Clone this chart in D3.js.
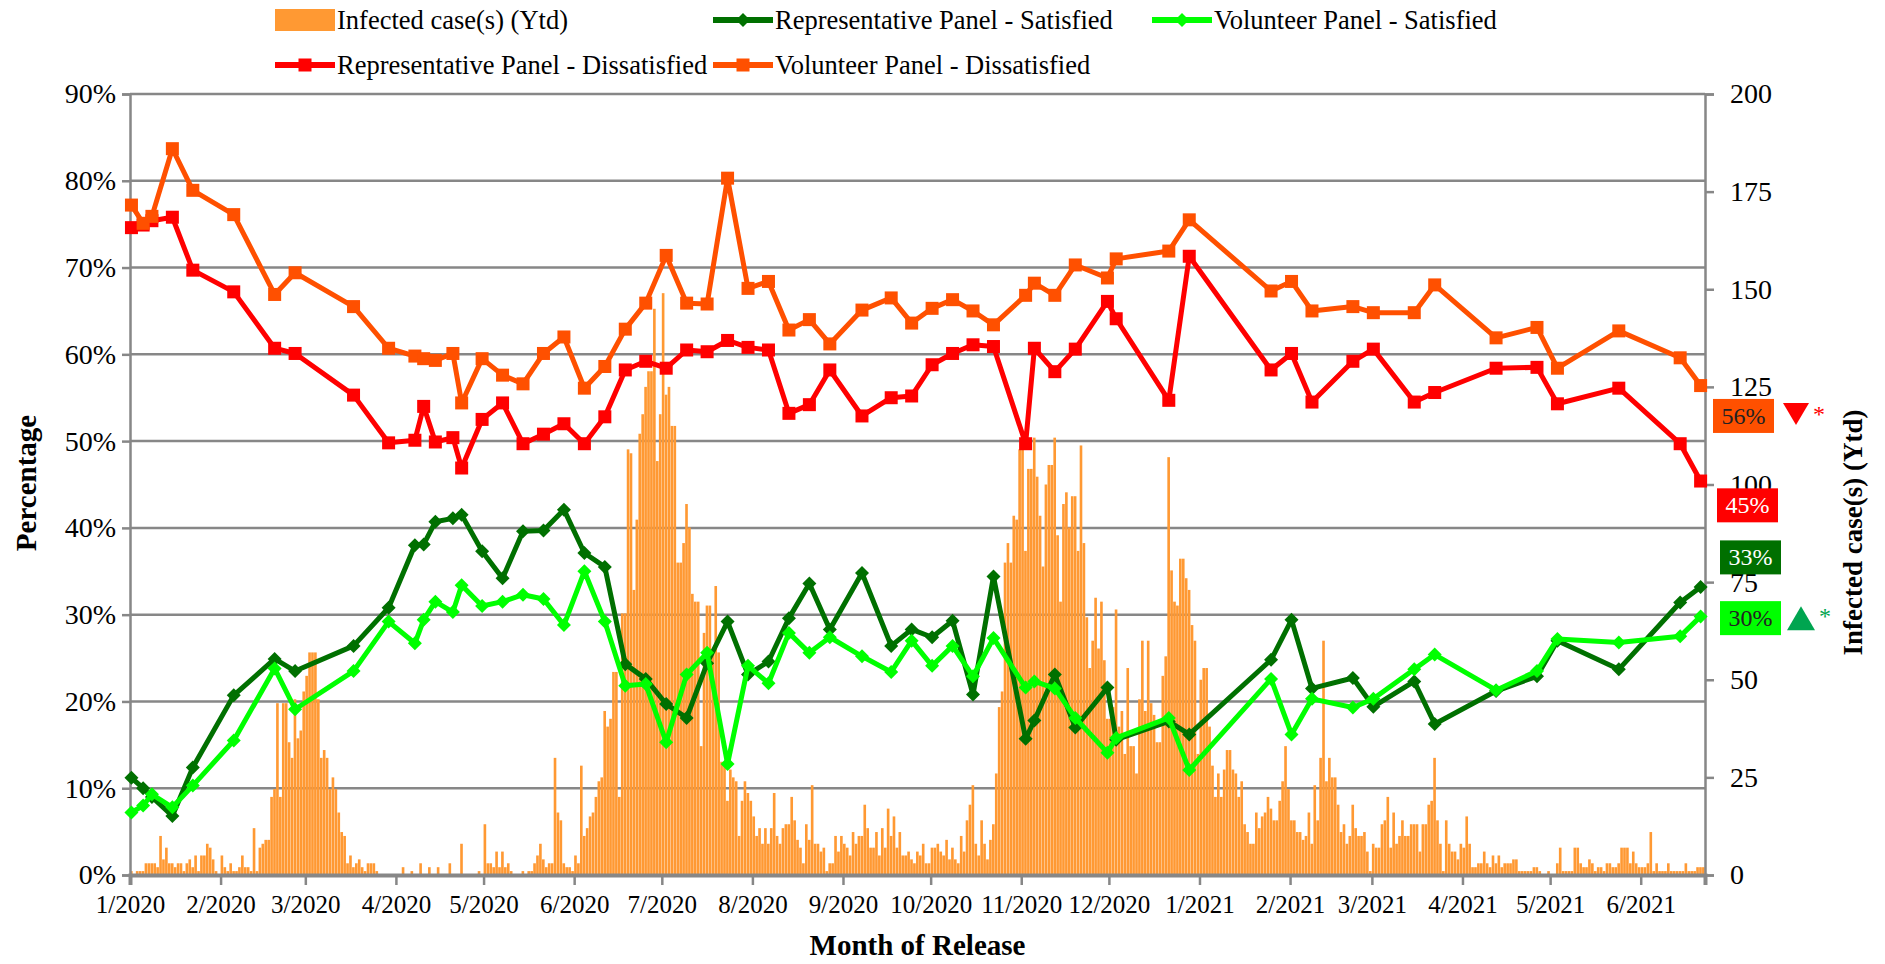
<!DOCTYPE html>
<html>
<head>
<meta charset="utf-8">
<script src="https://cdnjs.cloudflare.com/ajax/libs/d3/7.8.5/d3.min.js"></script>
<style>
  body { margin: 0; background: #fff; }
  svg text { font-family: "Liberation Serif", "Times New Roman", serif; }
</style>
</head>
<body>
<svg id="chart"></svg>
<script>
// survey release dates and the four panel series (percent)
const surveyDates = [
  "2020-01-01","2020-01-05","2020-01-08","2020-01-15","2020-01-22","2020-02-05","2020-02-19","2020-02-26",
  "2020-03-17","2020-03-29","2020-04-07","2020-04-10","2020-04-14","2020-04-20","2020-04-23","2020-04-30",
  "2020-05-07","2020-05-14","2020-05-21","2020-05-28","2020-06-04","2020-06-11","2020-06-18","2020-06-25",
  "2020-07-02","2020-07-09","2020-07-16","2020-07-23","2020-07-30","2020-08-06","2020-08-13","2020-08-20",
  "2020-08-27","2020-09-07","2020-09-17","2020-09-24","2020-10-01","2020-10-08","2020-10-15","2020-10-22",
  "2020-11-02","2020-11-05","2020-11-12","2020-11-19","2020-11-30","2020-12-03","2020-12-21","2020-12-28",
  "2021-01-25","2021-02-01","2021-02-08","2021-02-22","2021-03-01","2021-03-15","2021-03-22","2021-04-12",
  "2021-04-26","2021-05-03","2021-05-24","2021-06-14","2021-06-21"
];
const repSatisfied = [
  11.2,10.0,9.0,6.8,12.4,20.7,24.9,23.5,26.4,30.8,38.0,38.1,40.7,41.1,41.5,37.3,
  34.2,39.6,39.7,42.1,37.1,35.5,24.3,22.6,19.7,18.1,24.4,29.2,23.1,24.6,29.6,33.6,
  28.3,34.8,26.4,28.3,27.4,29.3,20.8,34.4,15.7,17.8,23.1,17.0,21.6,15.6,17.7,16.2,
  24.8,29.4,21.5,22.7,19.4,22.3,17.4,21.2,22.9,27.0,23.7,31.4,33.2
];
const volSatisfied = [
  7.2,8.0,9.3,7.8,10.3,15.5,23.8,19.1,23.5,29.2,26.7,29.4,31.5,30.3,33.4,31.0,
  31.5,32.3,31.8,28.8,35.0,29.2,21.8,22.0,15.3,23.1,25.6,12.8,24.1,22.1,27.9,25.6,
  27.4,25.2,23.4,27.0,24.1,26.4,22.9,27.3,21.6,22.3,21.5,18.1,14.1,15.8,18.1,12.1,
  22.6,16.2,20.3,19.3,20.3,23.7,25.4,21.3,23.5,27.2,26.8,27.5,29.8
];
const repDissatisfied = [
  74.6,74.9,75.4,75.8,69.7,67.2,60.7,60.1,55.3,49.8,50.1,54.0,49.9,50.4,46.9,52.5,
  54.4,49.7,50.8,52.0,49.7,52.8,58.2,59.2,58.4,60.5,60.3,61.6,60.8,60.5,53.2,54.2,
  58.2,52.9,55.0,55.2,58.8,60.1,61.1,60.9,49.7,60.7,58.0,60.6,66.1,64.1,54.7,71.3,
  58.2,60.1,54.5,59.2,60.6,54.5,55.6,58.4,58.5,54.3,56.1,49.7,45.4
];
const volDissatisfied = [
  77.2,75.1,75.9,83.7,78.9,76.1,66.9,69.4,65.5,60.7,59.8,59.5,59.3,60.1,54.4,59.5,
  57.6,56.6,60.1,62.0,56.1,58.6,62.9,65.9,71.4,65.9,65.8,80.3,67.6,68.4,62.8,64.0,
  61.2,65.1,66.5,63.6,65.3,66.3,65.0,63.4,66.8,68.2,66.8,70.3,68.8,71.0,71.9,75.5,
  67.3,68.4,65.0,65.5,64.8,64.8,68.0,61.9,63.1,58.4,62.7,59.6,56.4
];

// daily infected cases (yesterday), one value per day from caseStart
const caseStart = "2020-01-01";
const dailyCases = [
  1,0,1,1,1,3,3,3,3,2, 10,4,7,3,3,2,3,3,1,3, 4,2,5,1,5,5,8,7,4,1, 0,5,2,1,3,1,1,2,5,2,
  2,1,12,1,7,8,9,9,20,22, 44,20,44,44,34,30,45,35,37,47, 51,57,57,57,45,30,32,30,22,25,
  22,16,11,10,3,5,2,3,4,2, 1,3,3,3,1,0,0,0,0,0, 0,0,0,2,0,0,1,0,0,3, 0,0,2,0,0,2,0,0,0,3,
  0,0,0,8,0,0,0,0,0,1, 0,13,3,3,2,6,2,6,2,3, 1,0,0,0,1,0,1,1,3,5, 8,4,2,3,3,30,16,14,3,2,
  2,1,5,3,28,10,12,15,16,20, 24,25,42,38,40,52,52,20,67,67, 109,108,73,91,113,118,125,129,129,145,
  106,118,149,123,125,115,115,80,80,85, 95,89,72,70,70,33,62,69,69,57, 74,57,29,28,19,27,25,24,10,19,
  24,21,19,15,10,12,8,12,8,12, 21,10,8,12,13,13,20,14,9,7, 3,13,9,23,8,8,6,7,1,3,
  3,10,6,10,8,7,5,11,8,10, 10,18,12,7,7,11,5,12,7,17, 10,15,7,11,5,5,6,4,3,6,
  5,8,3,3,7,7,8,6,5,9, 4,7,4,3,10,6,14,18,23,8, 5,14,8,4,9,13,26,43,47,80,
  85,80,92,91,109,112,83,104,104,112, 102,92,79,100,105,105,112,87,70,95, 98,89,97,97,83,110,85,66,53,60,
  71,58,70,55,40,40,43,68,38,42, 31,53,33,33,26,45,60,42,60,44, 41,34,34,51,56,107,78,70,69,81,
  81,76,73,64,60,31,50,53,53,38, 28,20,26,20,27,32,32,27,26,20, 24,13,11,8,8,16,12,15,16,20,
  17,14,14,19,24,33,22,14,14,11, 11,9,10,16,8,23,14,30,60,24, 30,25,25,18,11,13,8,10,18,12,
  10,10,11,6,1,8,7,7,13,14, 20,7,16,8,10,14,10,10,13,13, 13,6,13,13,18,19,30,14,8,1,
  14,8,6,6,4,8,7,15,8,2, 2,3,3,6,3,2,5,3,5,2, 3,3,3,4,4,1,1,1,1,1,
  2,2,1,0,0,1,0,0,3,7, 1,1,1,1,7,7,3,2,2,4, 3,1,2,2,1,3,3,2,2,3,
  7,7,7,3,6,3,2,2,2,3, 11,1,3,1,1,1,3,1,1,1, 1,1,3,1,1,1,2,2,2
];

const pctTicks = [0, 10, 20, 30, 40, 50, 60, 70, 80, 90];
const caseTicks = [0, 25, 50, 75, 100, 125, 150, 175, 200];

// latest readings shown at the right edge
const endLabels = [
  { text: "56%", at: 52.9, fill: "#ff5000", color: "#222", mark: "down" },
  { text: "45%", at: 42.6, fill: "#ff0000", color: "#fff", mark: null },
  { text: "33%", at: 36.6, fill: "#007000", color: "#fff", mark: null },
  { text: "30%", at: 29.6, fill: "#00ff00", color: "#222", mark: "up" }
];

const width = 1885, height = 964;
const margin = { top: 94, right: 180, bottom: 89, left: 130 };
const plotR = width - margin.right, plotB = height - margin.bottom;

const svg = d3.select("#chart").attr("width", width).attr("height", height);

const parse = d3.timeParse("%Y-%m-%d");
const start = parse(caseStart);
const days = dailyCases.map((v, i) => ({ day: d3.timeDay.offset(start, i), v }));
const end = d3.timeDay.offset(start, dailyCases.length);

const x = d3.scaleTime().domain([start, end]).range([margin.left, plotR]);
const y = d3.scaleLinear().domain([0, 90]).range([plotB, margin.top]);
const yCases = d3.scaleLinear().domain([0, 200]).range([plotB, margin.top]);

const grey = "#878787";

// gridlines
svg.append("g")
  .selectAll("line")
  .data(pctTicks.filter(t => t > 0))
  .join("line")
  .attr("x1", margin.left).attr("x2", plotR)
  .attr("y1", d => y(d)).attr("y2", d => y(d))
  .attr("stroke", grey).attr("stroke-width", 2.5);

// daily case bars
const dayW = x(d3.timeDay.offset(start, 1)) - x(start);
svg.append("g")
  .selectAll("rect")
  .data(days)
  .join("rect")
  .attr("x", d => x(d.day))
  .attr("width", dayW * 0.9)
  .attr("y", d => yCases(d.v))
  .attr("height", d => plotB - yCases(d.v))
  .attr("fill", "#ff9933");

// axes
const leftAxis = svg.append("g")
  .attr("transform", `translate(${margin.left},0)`)
  .call(d3.axisLeft(y).tickValues(pctTicks).tickFormat(d => d + "%").tickSize(8).tickPadding(6));
const rightAxis = svg.append("g")
  .attr("transform", `translate(${plotR},0)`)
  .call(d3.axisRight(yCases).tickValues(caseTicks).tickSize(9).tickPadding(16));
const bottomAxis = svg.append("g")
  .attr("transform", `translate(0,${plotB})`)
  .call(d3.axisBottom(x).ticks(d3.timeMonth.every(1)).tickFormat(d3.timeFormat("%-m/%Y")).tickSize(10).tickPadding(10));

[leftAxis, rightAxis, bottomAxis].forEach(g => {
  g.select(".domain").attr("stroke", grey).attr("stroke-width", 2.5);
  g.selectAll(".tick line").attr("stroke", grey).attr("stroke-width", 2.5);
  g.selectAll(".tick text").attr("fill", "#000").attr("font-family", "Liberation Serif");
});
leftAxis.selectAll(".tick text").attr("font-size", 28);
rightAxis.selectAll(".tick text").attr("font-size", 28);
bottomAxis.selectAll(".tick text").attr("font-size", 25);
bottomAxis.select(".domain").attr("stroke-width", 4);

// lines
const series = [
  { name: "Representative Panel - Satisfied", values: repSatisfied, color: "#007000", shape: "diamond" },
  { name: "Volunteer Panel - Satisfied", values: volSatisfied, color: "#00ff00", shape: "diamond" },
  { name: "Representative Panel - Dissatisfied", values: repDissatisfied, color: "#ff0000", shape: "square" },
  { name: "Volunteer Panel - Dissatisfied", values: volDissatisfied, color: "#ff5000", shape: "square" }
];
const px = d => x(d3.timeHour.offset(parse(d), 12));

const line = d3.line().x(d => px(d.date)).y(d => y(d.v));

function marker(g, shape, color) {
  if (shape === "diamond") {
    g.append("path").attr("d", "M0,-7L7,0L0,7L-7,0Z").attr("fill", color);
  } else {
    g.append("rect").attr("x", -6.5).attr("y", -6.5).attr("width", 13).attr("height", 13).attr("fill", color);
  }
}

series.forEach(s => {
  const pts = s.values.map((v, i) => ({ date: surveyDates[i], v }));
  svg.append("path")
    .datum(pts)
    .attr("d", line)
    .attr("fill", "none")
    .attr("stroke", s.color)
    .attr("stroke-width", 5)
    .attr("stroke-linejoin", "round");
  svg.append("g")
    .selectAll("g")
    .data(pts)
    .join("g")
    .attr("transform", d => `translate(${px(d.date)},${y(d.v)})`)
    .each(function() { marker(d3.select(this), s.shape, s.color); });
});

// end labels
const lab = svg.append("g");
endLabels.forEach((d, i) => {
  const cy = y(d.at);
  const bx = i === 0 ? plotR + 8 : plotR + 12 + (i > 1 ? 3 : 0);
  lab.append("rect").attr("x", bx).attr("y", cy - 17).attr("width", 61).attr("height", 34).attr("fill", d.fill);
  lab.append("text").attr("x", bx + 30.5).attr("y", cy + 8).attr("text-anchor", "middle")
    .attr("font-size", 24).attr("fill", d.color).text(d.text);
  if (d.mark === "down") {
    lab.append("path").attr("d", `M${plotR + 78},${cy - 13}L${plotR + 104},${cy - 13}L${plotR + 91},${cy + 9}Z`).attr("fill", "#ff0000");
    lab.append("text").attr("x", plotR + 108).attr("y", cy + 6).attr("font-size", 24).attr("fill", "#ff0000").text("*");
  } else if (d.mark === "up") {
    lab.append("path").attr("d", `M${plotR + 82},${cy + 12}L${plotR + 110},${cy + 12}L${plotR + 96},${cy - 12}Z`).attr("fill", "#00a550");
    lab.append("text").attr("x", plotR + 114).attr("y", cy + 6).attr("font-size", 24).attr("fill", "#00a550").text("*");
  }
});

// axis titles
svg.append("text")
  .attr("transform", `translate(36,483) rotate(-90)`)
  .attr("text-anchor", "middle").attr("font-size", 29).attr("font-weight", "bold").text("Percentage");
svg.append("text")
  .attr("transform", `translate(1862,${(margin.top + plotB) / 2 + 48}) rotate(-90)`)
  .attr("text-anchor", "middle").attr("font-size", 27).attr("font-weight", "bold").text("Infected case(s) (Ytd)");
svg.append("text")
  .attr("x", (margin.left + plotR) / 2).attr("y", 955)
  .attr("text-anchor", "middle").attr("font-size", 29).attr("font-weight", "bold").text("Month of Release");

// legend
const legendItems = [
  { name: "Infected case(s) (Ytd)", color: "#ff9933", shape: "bar", lx: 275, ly: 20 },
  { name: series[0].name, color: series[0].color, shape: "diamond", lx: 713, ly: 20 },
  { name: series[1].name, color: series[1].color, shape: "diamond", lx: 1152, ly: 20 },
  { name: series[2].name, color: series[2].color, shape: "square", lx: 275, ly: 65 },
  { name: series[3].name, color: series[3].color, shape: "square", lx: 713, ly: 65 }
];
const lg = svg.append("g").selectAll("g").data(legendItems).join("g")
  .attr("transform", d => `translate(${d.lx},${d.ly})`);
lg.each(function(d) {
  const g = d3.select(this);
  if (d.shape === "bar") {
    g.append("rect").attr("x", 0).attr("y", -11).attr("width", 60).attr("height", 22).attr("fill", d.color);
  } else {
    g.append("line").attr("x1", 0).attr("x2", 60).attr("stroke", d.color).attr("stroke-width", 6);
    const m = g.append("g").attr("transform", "translate(30,0)");
    marker(m, d.shape, d.color);
  }
  g.append("text").attr("x", 62).attr("y", 9).attr("font-size", 26.5).text(d.name);
});
</script>
</body>
</html>
